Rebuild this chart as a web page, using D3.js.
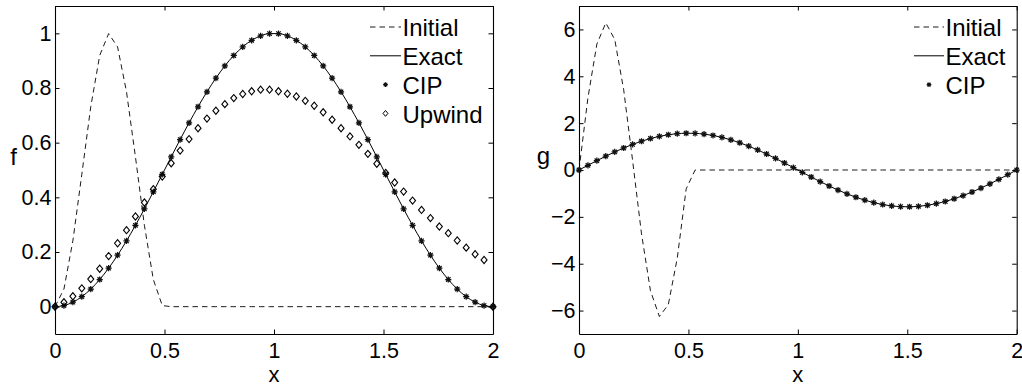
<!DOCTYPE html>
<html><head><meta charset="utf-8">
<script src="https://cdn.jsdelivr.net/npm/d3@7"></script>
<style>
html,body{margin:0;padding:0;background:#fff;}
svg{display:block;}
text{font-family:"Liberation Sans",Arial,Helvetica,sans-serif;fill:#000;}
</style></head>
<body>
<svg id="chart" width="1022" height="387"></svg>
<script>
// ---- data ----
const xs = [0,0.0408,0.0816,0.1224,0.1633,0.2041,0.2449,0.2857,0.3265,0.3673,0.4082,0.4490,0.4898,0.5306,0.5714,0.6122,0.6531,0.6939,0.7347,0.7755,0.8163,0.8571,0.8980,0.9388,0.9796,1.0204,1.0612,1.1020,1.1429,1.1837,1.2245,1.2653,1.3061,1.3469,1.3878,1.4286,1.4694,1.5102,1.5510,1.5918,1.6327,1.6735,1.7143,1.7551,1.7959,1.8367,1.8776,1.9184,1.9592,2.0000];

const fInitial = [0,0.0643,0.2408,0.4840,0.7313,0.9190,0.9990,0.9505,0.7861,0.5480,0.2976,0.0993,0.0041,
  0,0,0,0,0,0,0,0,0,0,0,0,0,0,0,0,0,0,0,0,0,0,0,0,0,0,0,0,0,0,0,0,0,0,0,0,0];
const fExact = [0,0.0041,0.0164,0.0365,0.0643,0.0993,0.1408,0.1883,0.2408,0.2976,0.3577,0.4202,0.4840,0.5480,0.6113,0.6727,0.7313,0.7861,0.8361,0.8807,0.9190,0.9505,0.9745,0.9908,0.9990,
  0.9990,0.9908,0.9745,0.9505,0.9190,0.8807,0.8361,0.7861,0.7313,0.6727,0.6113,0.5480,0.4840,0.4202,0.3577,0.2976,0.2408,0.1883,0.1408,0.0993,0.0643,0.0365,0.0164,0.0041,0];
const fCIP = [0,0.0041,0.0164,0.0365,0.0643,0.0993,0.1408,0.1883,0.2408,0.2976,0.3577,0.4202,0.4840,0.5480,0.6113,0.6727,0.7313,0.7861,0.8361,0.8807,0.9190,0.9505,0.9745,0.9908,0.9990,
  0.9990,0.9908,0.9745,0.9505,0.9190,0.8807,0.8361,0.7861,0.7313,0.6727,0.6113,0.5480,0.4840,0.4202,0.3577,0.2976,0.2408,0.1883,0.1408,0.0993,0.0643,0.0365,0.0164,0.0041,0];
const fUpwind = [0,0.016,0.038,0.067,0.101,0.139,0.185,0.232,0.280,0.330,0.381,0.430,0.476,0.525,0.571,0.613,0.653,0.688,0.717,0.741,0.763,0.778,0.788,0.794,0.794,
  0.788,0.779,0.769,0.753,0.735,0.711,0.684,0.653,0.623,0.592,0.559,0.523,0.489,0.454,0.421,0.388,0.354,0.324,0.293,0.269,0.242,0.216,0.192,0.171,0];

const gInitial = [0,3.083,5.373,6.280,5.571,3.428,0.403,-2.726,-5.153,-6.254,-5.745,-3.758,-0.803,
  0,0,0,0,0,0,0,0,0,0,0,0,0,0,0,0,0,0,0,0,0,0,0,0,0,0,0,0,0,0,0,0,0,0,0,0,0];
const gExact = [0,0.2009,0.3984,0.5895,0.7708,0.9395,1.0928,1.2281,1.3433,1.4364,1.5059,1.5507,1.5700,1.5635,1.5314,1.4742,1.3927,1.2883,1.1628,1.0182,0.8569,0.6815,0.4950,0.3003,0.1006,
  -0.1006,-0.3003,-0.4950,-0.6815,-0.8569,-1.0182,-1.1628,-1.2883,-1.3927,-1.4742,-1.5314,-1.5635,-1.5700,-1.5507,-1.5059,-1.4364,-1.3433,-1.2281,-1.0928,-0.9395,-0.7708,-0.5895,-0.3984,-0.2009,0];
const gCIP = [0,0.2009,0.3984,0.5895,0.7708,0.9395,1.0928,1.2281,1.3433,1.4364,1.5059,1.5507,1.5700,1.5635,1.5314,1.4742,1.3927,1.2883,1.1628,1.0182,0.8569,0.6815,0.4950,0.3003,0.1006,
  -0.1006,-0.3003,-0.4950,-0.6815,-0.8569,-1.0182,-1.1628,-1.2883,-1.3927,-1.4742,-1.5314,-1.5635,-1.5700,-1.5507,-1.5059,-1.4364,-1.3433,-1.2281,-1.0928,-0.9395,-0.7708,-0.5895,-0.3984,-0.2009,0];

const xTicks = [0,0.5,1,1.5,2];
const xTickLabels = ["0","0.5","1","1.5","2"];
const fTicks = [0,0.2,0.4,0.6,0.8,1];
const fTickLabels = ["0","0.2","0.4","0.6","0.8","1"];
const gTicks = [-6,-4,-2,0,2,4,6];
const gTickLabels = ["\u22126","\u22124","\u22122","0","2","4","6"];
const leftLegend = ["Initial","Exact","CIP","Upwind"];
const rightLegend = ["Initial","Exact","CIP"];

// ---- drawing ----
const svg = d3.select("#chart");
const TICK_FS = 21.5, LABEL_FS = 24, XLABEL_FS = 22;

const asteriskType = {draw(ctx, size){
  const r = Math.sqrt(size)/2, k = r*0.72;
  ctx.moveTo(-r,0); ctx.lineTo(r,0);
  ctx.moveTo(0,-r); ctx.lineTo(0,r);
  ctx.moveTo(-k,-k); ctx.lineTo(k,k);
  ctx.moveTo(-k,k); ctx.lineTo(k,-k);
}};
const diamondType = {draw(ctx, size){
  const w = Math.sqrt(size)/2, h = w*1.2;
  ctx.moveTo(0,-h); ctx.lineTo(w,0); ctx.lineTo(0,h); ctx.lineTo(-w,0); ctx.closePath();
}};

function panel(o){
  const g = svg.append("g");
  const x = o.x, y = o.y;
  const [x0,x1] = x.range(), [y0,y1] = y.range();
  const tl = 4.5;

  const fmtX = d => o.xLabels[o.xTicks.indexOf(d)];
  const fmtY = d => o.yLabels[o.yTicks.indexOf(d)];
  const ab = g.append("g").attr("transform",`translate(0,${y0})`)
    .call(d3.axisBottom(x).tickValues(o.xTicks).tickFormat(fmtX).tickSizeInner(-tl).tickSizeOuter(0).tickPadding(8.5));
  const at = g.append("g").attr("transform",`translate(0,${y1})`)
    .call(d3.axisTop(x).tickValues(o.xTicks).tickFormat("").tickSizeInner(-tl).tickSizeOuter(0));
  const al = g.append("g").attr("transform",`translate(${x0},0)`)
    .call(d3.axisLeft(y).tickValues(o.yTicks).tickFormat(fmtY).tickSizeInner(-tl).tickSizeOuter(0).tickPadding(3.5));
  const ar = g.append("g").attr("transform",`translate(${x1},0)`)
    .call(d3.axisRight(y).tickValues(o.yTicks).tickFormat("").tickSizeInner(-tl).tickSizeOuter(0));
  [ab,at,al,ar].forEach(a=>{
    a.selectAll(".domain").attr("stroke","#000").attr("stroke-width",1.1);
    a.selectAll(".tick line").attr("stroke","#000").attr("stroke-width",1);
    a.selectAll("text").attr("font-size",TICK_FS).attr("font-family",null).attr("fill","#000");
  });

  g.append("text").attr("x",(x0+x1)/2).attr("y",382.3).attr("text-anchor","middle")
    .attr("font-size",XLABEL_FS).text("x");
  g.append("text").attr("x",o.yLabelX).attr("y",o.yLabelY).attr("text-anchor","middle")
    .attr("font-size",LABEL_FS).text(o.yName);

  const line = d3.line().x((d,i)=>x(xs[i])).y(d=>y(d));
  g.append("path").datum(o.initial).attr("d",line).attr("fill","none")
    .attr("stroke","#000").attr("stroke-width",0.9).attr("stroke-dasharray","5.5,4");
  g.append("path").datum(o.exact).attr("d",line.curve(d3.curveMonotoneX)).attr("fill","none")
    .attr("stroke","#000").attr("stroke-width",1);
  const star = d3.symbol().type(asteriskType).size(38);
  g.append("g").selectAll("path").data(o.cip).join("path")
    .attr("transform",(d,i)=>`translate(${x(xs[i])},${y(d)})`)
    .attr("d",star).attr("fill","none").attr("stroke","#111").attr("stroke-width",1.25);
  if(o.upwind){
    const dia = d3.symbol().type(diamondType).size(36);
    g.append("g").selectAll("path").data(o.upwind).join("path")
      .attr("transform",(d,i)=>`translate(${x(xs[i])},${y(d)})`)
      .attr("d",dia).attr("fill","none").attr("stroke","#000").attr("stroke-width",1.1);
  }

  const lg = g.append("g");
  o.legend.forEach((name,i)=>{
    const ly = 27 + i*28.8;
    if(name==="Initial"){
      lg.append("line").attr("x1",o.legX1).attr("x2",o.legX2).attr("y1",ly).attr("y2",ly)
        .attr("stroke","#000").attr("stroke-width",0.9).attr("stroke-dasharray","5.5,4");
    } else if(name==="Exact"){
      lg.append("line").attr("x1",o.legX1).attr("x2",o.legX2).attr("y1",ly).attr("y2",ly)
        .attr("stroke","#000").attr("stroke-width",1);
    } else if(name==="CIP"){
      lg.append("path").attr("transform",`translate(${(o.legX1+o.legX2)/2},${ly})`)
        .attr("d",d3.symbol().type(asteriskType).size(22)).attr("fill","none").attr("stroke","#111").attr("stroke-width",1.1);
    } else {
      lg.append("path").attr("transform",`translate(${(o.legX1+o.legX2)/2},${ly})`)
        .attr("d",d3.symbol().type(diamondType).size(24)).attr("fill","none").attr("stroke","#000").attr("stroke-width",1);
    }
    lg.append("text").attr("x",o.legX2+1.5).attr("y",ly+9.3).attr("font-size",LABEL_FS).text(name);
  });
}

panel({
  x: d3.scaleLinear().domain([0,2]).range([55,493]),
  y: d3.scaleLinear().domain([-0.1,1.1]).range([334,6]),
  xTicks, xLabels: xTickLabels, yTicks: fTicks, yLabels: fTickLabels,
  yName: "f", yLabelX: 13.5, yLabelY: 165,
  initial: fInitial, exact: fExact, cip: fCIP, upwind: fUpwind,
  legend: leftLegend, legX1: 370, legX2: 401
});
panel({
  x: d3.scaleLinear().domain([0,2]).range([579,1016.7]),
  y: d3.scaleLinear().domain([-7,7]).range([334,6]),
  xTicks, xLabels: xTickLabels, yTicks: gTicks, yLabels: gTickLabels,
  yName: "g", yLabelX: 543.5, yLabelY: 164,
  initial: gInitial, exact: gExact, cip: gCIP, upwind: null,
  legend: rightLegend, legX1: 914, legX2: 944
});
</script>
</body></html>
